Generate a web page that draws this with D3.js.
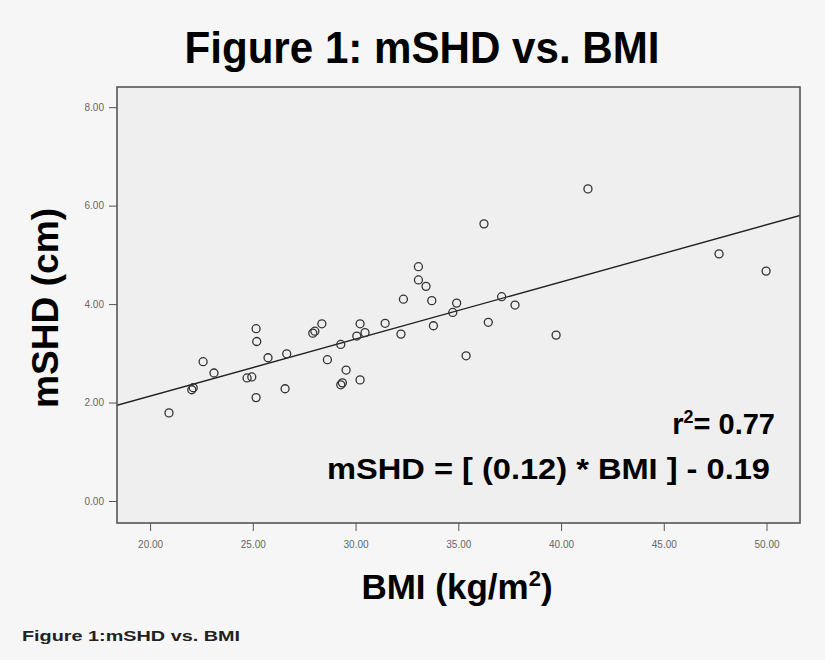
<!DOCTYPE html>
<html>
<head>
    <title>Figure 1: mSHD vs. BMI</title>
    <script src="https://cdn.jsdelivr.net/npm/d3@7"></script>
    <style>
        body { margin: 0; background: #f6f6f6; }
        svg { font-family: "Liberation Sans", Arial, sans-serif; }
        .tick text { fill: #666; font-size: 10px; }
        .tick line { stroke: #555; }
        .domain { display: none; }
    </style>
</head>
<body>
    <div id="chart"></div>

    <script>
        // BMI (x) and mSHD (y)
        var bmi = [20.92, 22.03, 22.10, 22.58, 23.11, 24.72, 24.95, 25.16, 25.19, 25.16,
                   25.74, 26.57, 26.65, 28.36, 27.92, 28.02, 30.22, 31.44, 30.06, 30.46,
                   29.28, 32.21, 33.79, 28.63, 29.54, 29.28, 29.36, 30.22, 36.25, 33.06,
                   33.06, 33.43, 32.33, 33.71, 34.92, 34.73, 37.11, 37.76, 36.46, 35.38,
                   39.76, 41.31, 47.69, 49.98];
        var mshd = [1.79, 2.26, 2.30, 2.83, 2.60, 2.50, 2.52, 3.50, 3.24, 2.10,
                    2.91, 2.28, 2.99, 3.60, 3.41, 3.45, 3.60, 3.61, 3.35, 3.42,
                    3.18, 3.39, 3.56, 2.87, 2.66, 2.36, 2.40, 2.46, 5.63, 4.76,
                    4.49, 4.36, 4.10, 4.07, 4.02, 3.83, 4.15, 3.98, 3.63, 2.95,
                    3.37, 6.34, 5.02, 4.67];

        var xTicks = [20, 25, 30, 35, 40, 45, 50];
        var yTicks = [0, 2, 4, 6, 8];

        // fitted line as drawn: mSHD = slope * BMI + intercept
        var slope = 0.116, intercept = -0.19;

        var width = 825, height = 660;
        var margin = {left: 117, top: 87, right: 25, bottom: 137};
        var plotW = width - margin.left - margin.right;
        var plotH = height - margin.top - margin.bottom;

        var svg = d3.select("#chart").append("svg")
            .attr("width", width)
            .attr("height", height);

        var x = d3.scaleLinear().domain([18.39, 51.63]).range([0, plotW]);
        var y = d3.scaleLinear().domain([-0.447, 8.41]).range([plotH, 0]);

        var g = svg.append("g")
            .attr("transform", "translate(" + margin.left + "," + margin.top + ")");

        g.append("rect")
            .attr("width", plotW)
            .attr("height", plotH)
            .attr("fill", "#efefef");

        g.append("clipPath").attr("id", "clip")
            .append("rect").attr("width", plotW).attr("height", plotH);

        // regression line
        g.append("line")
            .attr("clip-path", "url(#clip)")
            .attr("x1", x(x.domain()[0]))
            .attr("y1", y(slope * x.domain()[0] + intercept))
            .attr("x2", x(x.domain()[1]))
            .attr("y2", y(slope * x.domain()[1] + intercept))
            .attr("stroke", "#222")
            .attr("stroke-width", 1.4);

        // points
        g.selectAll(".pt")
            .data(bmi.map((b, i) => [b, mshd[i]]))
            .enter().append("circle")
            .attr("class", "pt")
            .attr("cx", d => x(d[0]))
            .attr("cy", d => y(d[1]))
            .attr("r", 4)
            .attr("fill", "none")
            .attr("stroke", "#333")
            .attr("stroke-width", 1.3);

        // axes
        g.append("g")
            .attr("transform", "translate(0," + plotH + ")")
            .call(d3.axisBottom(x).tickValues(xTicks).tickSize(8).tickPadding(10)
                .tickFormat(d3.format(".2f")));

        g.append("g")
            .call(d3.axisLeft(y).tickValues(yTicks).tickSize(8).tickPadding(5)
                .tickFormat(d3.format(".2f")));

        // frame
        g.append("rect")
            .attr("width", plotW)
            .attr("height", plotH)
            .attr("fill", "none")
            .attr("stroke", "#555")
            .attr("stroke-width", 1.6);

        // title
        svg.append("text")
            .attr("x", 422).attr("y", 63)
            .attr("text-anchor", "middle")
            .attr("font-size", 44).attr("font-weight", "bold")
            .attr("textLength", 475).attr("lengthAdjust", "spacingAndGlyphs")
            .text("Figure 1: mSHD vs. BMI");

        // y label
        svg.append("text")
            .attr("transform", "translate(58,308) rotate(-90)")
            .attr("text-anchor", "middle")
            .attr("font-size", 36).attr("font-weight", "bold")
            .attr("textLength", 200).attr("lengthAdjust", "spacingAndGlyphs")
            .text("mSHD (cm)");

        // x label
        var xl = svg.append("text")
            .attr("x", 457).attr("y", 599)
            .attr("text-anchor", "middle")
            .attr("font-size", 35).attr("font-weight", "bold");
        xl.append("tspan").text("BMI (kg/m");
        xl.append("tspan").attr("font-size", 22).attr("dy", -13).text("2");
        xl.append("tspan").attr("dy", 13).text(")");

        // annotation
        var r2 = svg.append("text")
            .attr("x", 775).attr("y", 434)
            .attr("text-anchor", "end")
            .attr("font-size", 29).attr("font-weight", "bold");
        r2.append("tspan").text("r");
        r2.append("tspan").attr("font-size", 18).attr("dy", -11).text("2");
        r2.append("tspan").attr("dy", 11).text("= 0.77");

        svg.append("text")
            .attr("x", 770).attr("y", 479)
            .attr("text-anchor", "end")
            .attr("font-size", 30).attr("font-weight", "bold")
            .attr("textLength", 443).attr("lengthAdjust", "spacingAndGlyphs")
            .text("mSHD = [ (0.12) * BMI ] - 0.19");

        // caption
        svg.append("text")
            .attr("x", 22).attr("y", 641)
            .attr("font-size", 14).attr("font-weight", "bold")
            .attr("fill", "#222")
            .attr("textLength", 218).attr("lengthAdjust", "spacingAndGlyphs")
            .text("Figure 1:mSHD vs. BMI");
    </script>
</body>
</html>
